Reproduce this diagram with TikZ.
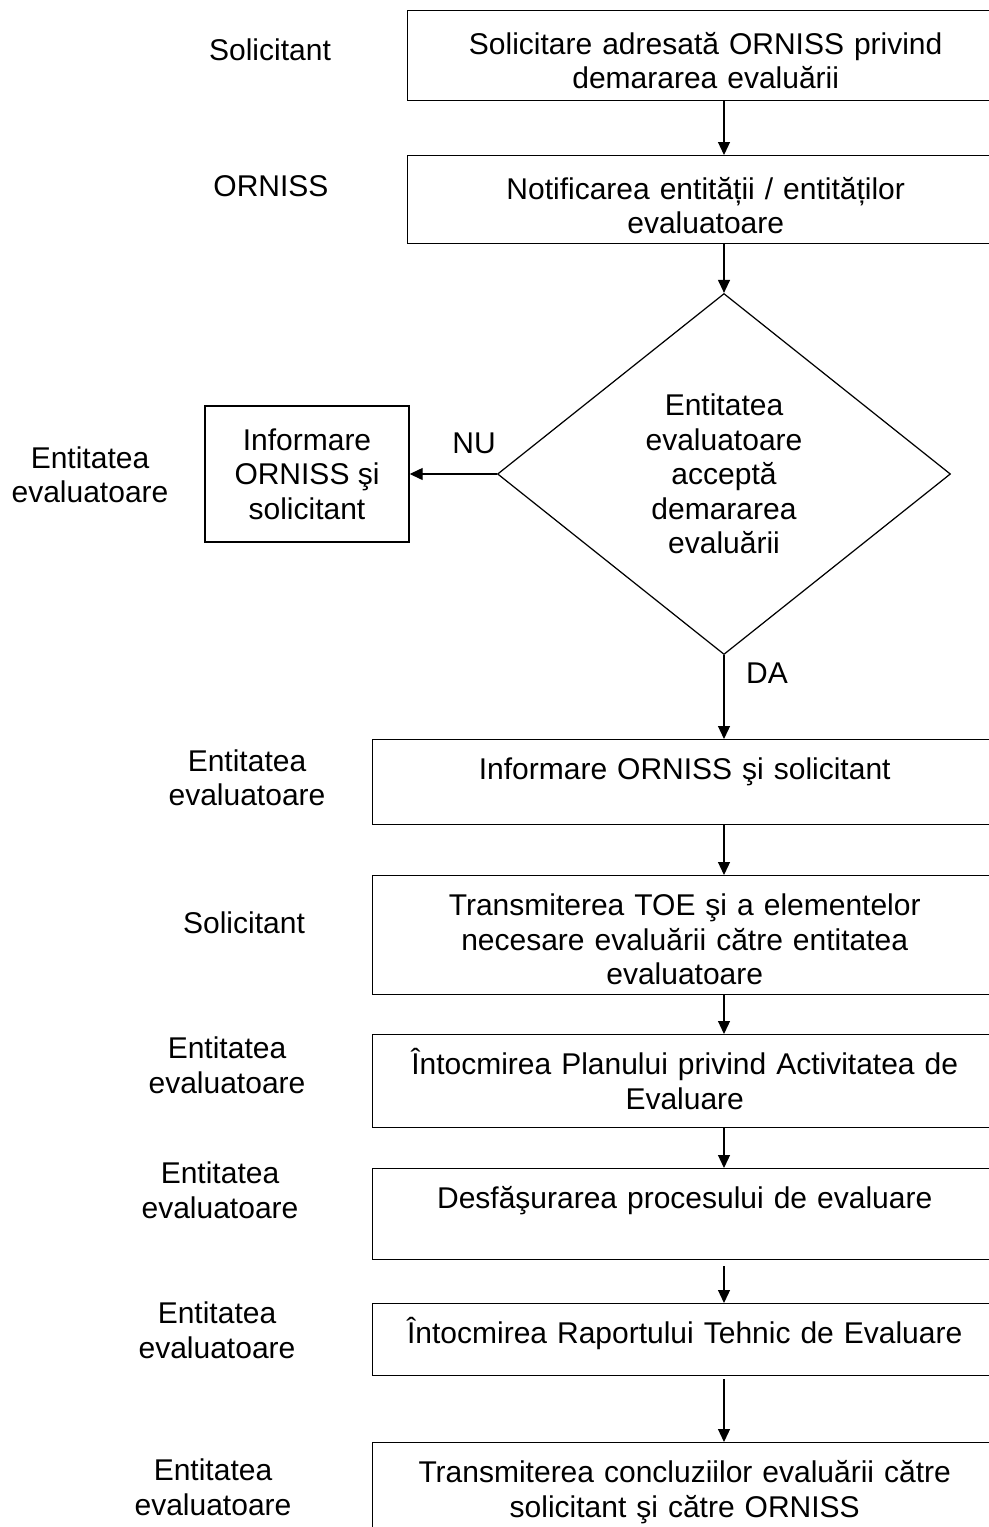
\documentclass[tikz,border=0pt]{standalone}
\usepackage{fontspec}
\setmainfont{Liberation Sans}
\usepackage{tikz}
\usetikzlibrary{shapes.geometric, arrows.meta, positioning, calc}

\begin{document}
\begin{tikzpicture}[
    font=\fontsize{17.07pt}{19.63pt}\selectfont,
    stepbox/.style={rectangle, draw=black, line width=0.8pt, anchor=north west, inner xsep=0pt, inner ysep=0pt, align=center, text height=0.8cm},
    wide/.style={text width=12.48cm},
    narrow/.style={text width=11.92cm, text height=0.87cm},
    decision/.style={diamond, draw=black, line width=0.7pt, inner sep=0pt, align=center, minimum width=9.06cm, minimum height=7.22cm},
    sidebox/.style={rectangle, draw=black, line width=0.8pt, align=center, inner sep=0pt, minimum width=4.08cm, minimum height=2.72cm},
    role/.style={align=center},
    answer/.style={inner sep=0pt},
    arrow/.style={-{Triangle[length=0.26cm, width=0.24cm]}, line width=0.7pt}
]
\clip (0,0) rectangle (19.78,-30.54);

% Steps
\node[stepbox, narrow, text depth=0.93cm] (b1) at (8.14, -0.20) {Solicitare adresată ORNISS privind\\demararea evaluării};
\node[stepbox, narrow, text depth=0.89cm] (b2) at (8.14, -3.10) {Notificarea entității / entităților\\evaluatoare};
\node[decision] (accept) at (14.48, -9.48) {Entitatea\\evaluatoare\\acceptă\\demararea\\evaluării};
\node[sidebox] (reject) at (6.14, -9.48) {Informare\\ORNISS şi\\solicitant};
\node[stepbox, wide, text depth=0.90cm] (b3) at (7.44, -14.78) {Informare ORNISS şi solicitant};
\node[stepbox, wide, text depth=1.58cm] (b4) at (7.44, -17.50) {Transmiterea TOE şi a elementelor\\necesare evaluării către entitatea\\evaluatoare};
\node[stepbox, wide, text depth=1.06cm] (b5) at (7.44, -20.68) {Întocmirea Planului privind Activitatea de\\Evaluare};
\node[stepbox, wide, text depth=1.02cm] (b6) at (7.44, -23.36) {Desfăşurarea procesului de evaluare};
\node[stepbox, wide, text depth=0.64cm] (b7) at (7.44, -26.06) {Întocmirea Raportului Tehnic de Evaluare};
\node[stepbox, wide, text depth=2.00cm] (b8) at (7.44, -28.84) {Transmiterea concluziilor evaluării către\\solicitant şi către ORNISS};

% Roles
\node[role] (r1) at (5.40, -1.00) {Solicitant};
\node[role] (r2) at (5.42, -3.72) {ORNISS};
\node[role] (r3) at (1.80, -9.50) {Entitatea\\evaluatoare};
\node[role] (r4) at (4.94, -15.56) {Entitatea\\evaluatoare};
\node[role] (r5) at (4.88, -18.46) {Solicitant};
\node[role] (r6) at (4.54, -21.31) {Entitatea\\evaluatoare};
\node[role] (r7) at (4.40, -23.81) {Entitatea\\evaluatoare};
\node[role] (r8) at (4.34, -26.61) {Entitatea\\evaluatoare};
\node[role] (r9) at (4.26, -29.75) {Entitatea\\evaluatoare};

% Answers
\node[answer] (no) at (9.48, -8.86) {NU};
\node[answer] (yes) at (15.34, -13.46) {DA};

% Flow
\coordinate (spine) at (14.48, 0);
\draw[arrow] (b1.south -| spine) -- (b2.north -| spine);
\draw[arrow] (b2.south -| spine) -- (accept.north);
\draw[arrow] (accept.west) -- (reject.east);
\draw[arrow] (accept.south) -- (b3.north -| spine);
\draw[arrow] (b3.south -| spine) -- (b4.north -| spine);
\draw[arrow] (b4.south -| spine) -- (b5.north -| spine);
\draw[arrow] (b5.south -| spine) -- (b6.north -| spine);
\draw[arrow, shorten <=0.12cm] (b6.south -| spine) -- (b7.north -| spine);
\draw[arrow, shorten <=0.06cm] (b7.south -| spine) -- (b8.north -| spine);

\end{tikzpicture}
\end{document}
